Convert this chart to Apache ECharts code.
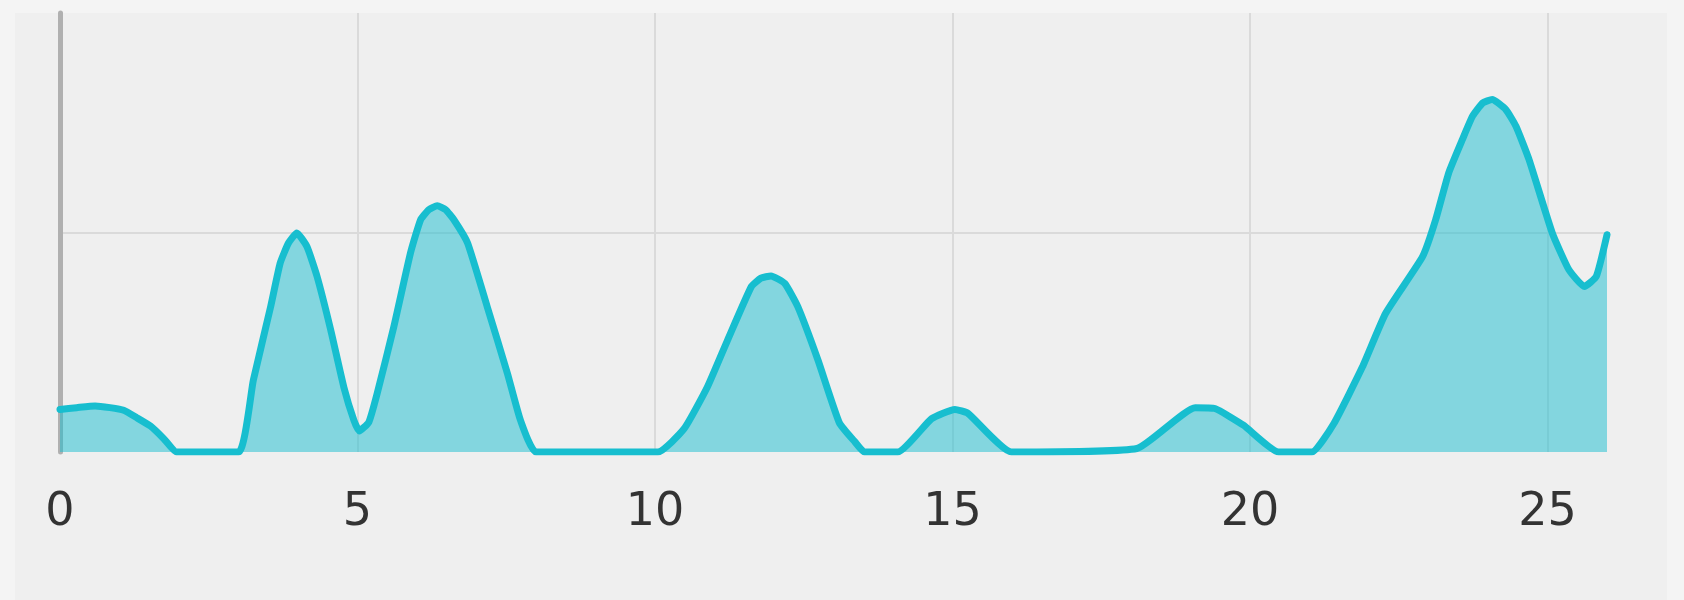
<!DOCTYPE html>
<html>
<head>
<meta charset="utf-8">
<script src="https://cdn.jsdelivr.net/npm/echarts@6/dist/echarts.min.js"></script>
<style>
  html, body { margin: 0; padding: 0; background: #f4f4f4; }
  #chart { width: 1684px; height: 600px; }
</style>
</head>
<body>
<div id="chart"></div>
<script>
// x positions (value axis units) and y values
const xValues = [0, 0.28, 0.59, 0.84, 1.07, 1.29, 1.52, 1.74, 1.96, 3.0, 3.25, 3.54, 3.70, 3.84, 3.98,
  4.15, 4.32, 4.55, 4.77, 4.94, 5.03, 5.19, 5.33, 5.61, 5.89, 6.06, 6.2, 6.34, 6.48, 6.62, 6.85, 7.18, 7.52, 7.74, 8.0,
  10.05, 10.49, 10.88, 11.22, 11.62, 11.78, 11.95, 12.18, 12.4, 12.74, 13.1, 13.36, 13.52, 14.08,
  14.65, 15.04, 15.26, 15.99, 18.1, 19.08, 19.41, 19.89, 20.48, 21.04,
  21.41, 21.89, 22.28, 22.9, 23.12, 23.34, 23.57, 23.74, 23.91, 24.07, 24.3, 24.47, 24.69, 25.08, 25.36, 25.62, 25.82, 26.0];
const yValues = [0.97, 1.01, 1.05, 1.01, 0.95, 0.78, 0.59, 0.31, 0, 0, 1.64, 3.31, 4.30, 4.76, 4.99,
  4.68, 4.0, 2.78, 1.48, 0.72, 0.48, 0.68, 1.33, 2.85, 4.53, 5.29, 5.52, 5.61, 5.52, 5.29, 4.76, 3.31, 1.79, 0.72, 0,
  0, 0.53, 1.48, 2.55, 3.77, 3.96, 4.01, 3.84, 3.31, 2.09, 0.66, 0.23, 0, 0,
  0.76, 0.97, 0.88, 0, 0.08, 1.01, 0.99, 0.61, 0, 0,
  0.65, 1.94, 3.16, 4.45, 5.29, 6.36, 7.12, 7.65, 7.95, 8.03, 7.8, 7.42, 6.66, 4.99, 4.15, 3.77, 4.0, 4.95];
const xTickLabels = ['0', '5', '10', '15', '20', '25'];

const seriesData = xValues.map((x, i) => [x, yValues[i]]);

const chart = echarts.init(document.getElementById('chart'), null, { renderer: 'canvas' });
chart.setOption({
  backgroundColor: '#f4f4f4',
  animation: false,
  graphic: [
    { type: 'rect', z: -10, silent: true, shape: { x: 15, y: 13, width: 1652, height: 587 }, style: { fill: '#efefef' } }
  ],
  grid: { left: 60, right: 77, top: 13, bottom: 148, containLabel: false },
  xAxis: {
    type: 'value',
    min: 0,
    max: 26,
    interval: 5,
    axisLine: { show: false },
    axisTick: { show: false },
    axisLabel: {
      show: true,
      showMaxLabel: false,
      margin: 38,
      fontFamily: 'DejaVu Sans',
      fontSize: 46,
      color: '#333333',
      formatter: function (v) { return xTickLabels.indexOf(String(v)) >= 0 ? String(v) : ''; }
    },
    splitLine: {
      show: true,
      showMinLine: false,
      showMaxLine: false,
      lineStyle: { color: '#dadada', width: 2 }
    }
  },
  yAxis: {
    type: 'value',
    min: 0,
    max: 10,
    interval: 5,
    axisLine: { show: true, lineStyle: { color: '#b0b0b0', width: 5 } },
    axisTick: { show: false },
    axisLabel: { show: false },
    splitLine: {
      show: true,
      showMinLine: false,
      showMaxLine: false,
      lineStyle: { color: '#dadada', width: 2 }
    }
  },
  series: [{
    type: 'line',
    data: seriesData,
    smooth: 0.15,
    showSymbol: false,
    symbol: 'none',
    lineStyle: { color: '#17becf', width: 7, join: 'round', cap: 'round' },
    areaStyle: { color: '#17becf', opacity: 0.5 },
    itemStyle: { color: '#17becf' }
  }]
});
</script>
</body>
</html>
